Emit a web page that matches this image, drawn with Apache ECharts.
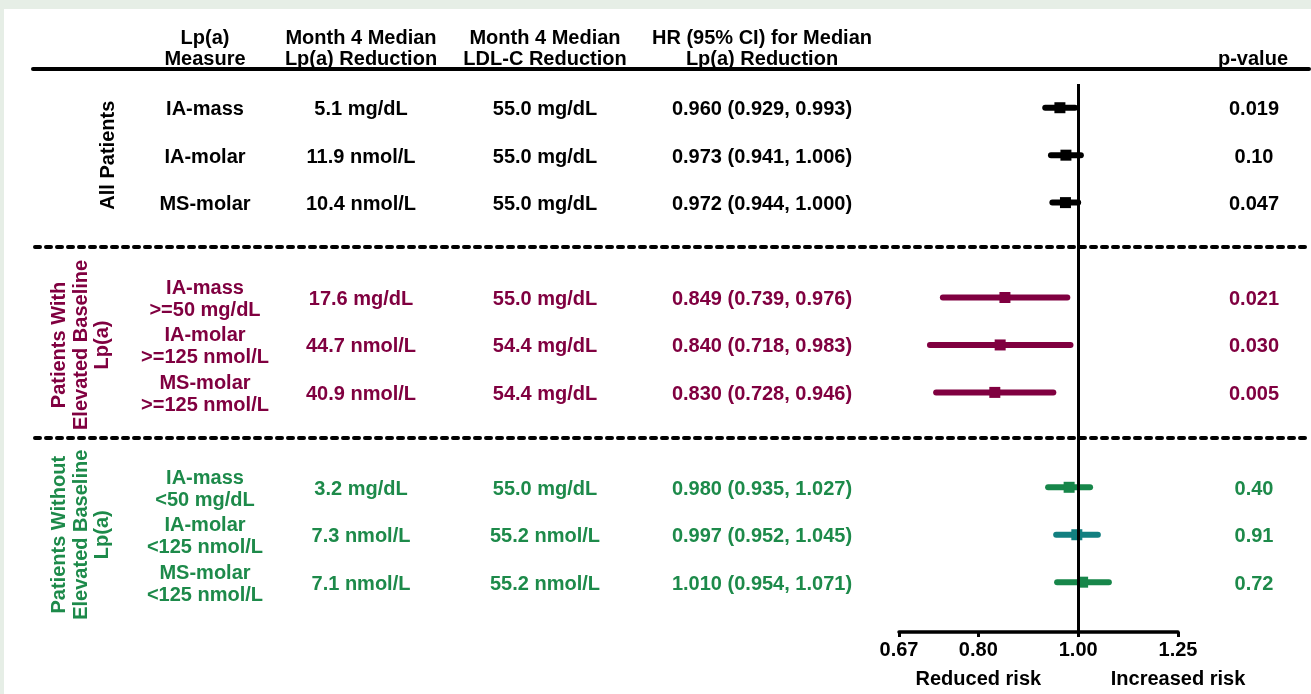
<!DOCTYPE html>
<html>
<head>
<meta charset="utf-8">
<script src="https://cdn.jsdelivr.net/npm/echarts@6/dist/echarts.min.js"></script>
<style>
  html, body { margin: 0; padding: 0; background: #e6eee6; }
  #frame { position: absolute; left: 4px; top: 9px; width: 1307px; height: 685px; background: #ffffff; }
  #chart { position: absolute; left: 0; top: 0; width: 1311px; height: 694px; }
</style>
</head>
<body>
<div id="frame"></div>
<div id="chart"></div>
<script>
// ---- data ----
const groups = [
  'All Patients',
  'Patients With\nElevated Baseline\nLp(a)',
  'Patients Without\nElevated Baseline\nLp(a)'
];
const measures = [
  'IA-mass', 'IA-molar', 'MS-molar',
  'IA-mass\n>=50 mg/dL', 'IA-molar\n>=125 nmol/L', 'MS-molar\n>=125 nmol/L',
  'IA-mass\n<50 mg/dL', 'IA-molar\n<125 nmol/L', 'MS-molar\n<125 nmol/L'
];
const lpaReduction = [
  '5.1 mg/dL', '11.9 nmol/L', '10.4 nmol/L',
  '17.6 mg/dL', '44.7 nmol/L', '40.9 nmol/L',
  '3.2 mg/dL', '7.3 nmol/L', '7.1 nmol/L'
];
const ldlReduction = [
  '55.0 mg/dL', '55.0 mg/dL', '55.0 mg/dL',
  '55.0 mg/dL', '54.4 mg/dL', '54.4 mg/dL',
  '55.0 mg/dL', '55.2 nmol/L', '55.2 nmol/L'
];
const hazardRatio = [0.960, 0.973, 0.972, 0.849, 0.840, 0.830, 0.980, 0.997, 1.010];
const ciLower     = [0.929, 0.941, 0.944, 0.739, 0.718, 0.728, 0.935, 0.952, 0.954];
const ciUpper     = [0.993, 1.006, 1.000, 0.976, 0.983, 0.946, 1.027, 1.045, 1.071];
const pValues = ['0.019', '0.10', '0.047', '0.021', '0.030', '0.005', '0.40', '0.91', '0.72'];
const rowGroup = [0, 0, 0, 1, 1, 1, 2, 2, 2];
const axisTicks = [0.67, 0.80, 1.00, 1.25];
const riskLabels = ['Reduced risk', 'Increased risk'];
const riskTicks = [0.80, 1.25];
const headers = [
  'Lp(a)\nMeasure',
  'Month 4 Median\nLp(a) Reduction',
  'Month 4 Median\nLDL-C Reduction',
  'HR (95% CI) for Median\nLp(a) Reduction'
];
const pHeader = 'p-value';

// ---- styles & layout ----
const groupColors = ['#000000', '#800040', '#1d8a4a'];
const markerColors = ['#000000', '#000000', '#000000',
                      '#800040', '#800040', '#800040',
                      '#17864a', '#127f80', '#17864a'];
const FONT = 'bold 20px "Liberation Sans", Arial, Helvetica, sans-serif';
const colMeasure = 205, colLpa = 361, colLdl = 545, colHr = 762, colP = 1254;
const groupX = [108, 81, 81];
const TEXT_DY = 2; // optical baseline correction for centred text
// each group takes 3 rows plus one empty slot
const slotOf = i => rowGroup[i] * 4 + (i % 3);
const yMin = -0.5, yMax = 11.05;

const ln = Math.log;
const fmt3 = v => v.toFixed(3);
const hrText = hazardRatio.map((h, i) => `${fmt3(h)} (${fmt3(ciLower[i])}, ${fmt3(ciUpper[i])})`);

// a column of centred text drawn on the table grid
function textColumn(x, texts, colorOf, extra) {
  extra = extra || {};
  return {
    type: 'custom',
    xAxisIndex: 0,
    yAxisIndex: 0,
    silent: true,
    data: texts.map((t, i) => [Array.isArray(x) ? x[i] : x, extra.slots ? extra.slots[i] : slotOf(i)]),
    renderItem: function (params, api) {
      const p = api.coord([api.value(0), api.value(1)]);
      return {
        type: 'text',
        x: p[0],
        y: p[1] + (extra.rotation ? 0 : TEXT_DY),
        rotation: extra.rotation || 0,
        style: {
          text: texts[params.dataIndex],
          fill: colorOf(params.dataIndex),
          font: FONT,
          align: 'center',
          verticalAlign: 'middle',
          lineHeight: extra.lineHeight || 22
        }
      };
    }
  };
}

const forestData = hazardRatio.map((h, i) => [ln(ciLower[i]), ln(h), ln(ciUpper[i]), slotOf(i)]);

const chart = echarts.init(document.getElementById('chart'), null, { renderer: 'canvas' });

const axisFont = { color: '#000', fontSize: 20, fontWeight: 'bold',
                   fontFamily: '"Liberation Sans", Arial, sans-serif' };

const option = {
  backgroundColor: 'transparent',
  animation: false,
  grid: [
    { left: 0, width: 1311, top: 84, height: 548, outerBoundsMode: 'none' },
    { left: 899, width: 279, top: 84, height: 548, outerBoundsMode: 'none' }
  ],
  xAxis: [
    { gridIndex: 0, type: 'value', min: 0, max: 1311, show: false },
    {
      gridIndex: 1, type: 'value', min: ln(axisTicks[0]), max: ln(axisTicks[axisTicks.length - 1]),
      position: 'bottom',
      axisLine: { show: true, onZero: false, lineStyle: { color: '#000', width: 3.5 } },
      axisTick: { show: true, length: 5, lineStyle: { color: '#000', width: 3 },
                  customValues: axisTicks.map(ln) },
      axisLabel: Object.assign({ show: true, margin: 8,
                   customValues: axisTicks.map(ln),
                   formatter: v => Math.exp(v).toFixed(2) }, axisFont),
      splitLine: { show: false }
    },
    {
      gridIndex: 1, type: 'value', min: ln(axisTicks[0]), max: ln(axisTicks[axisTicks.length - 1]),
      position: 'bottom', offset: 32,
      axisLine: { show: false }, axisTick: { show: false }, splitLine: { show: false },
      axisLabel: Object.assign({ show: true, margin: 5,
                   customValues: riskTicks.map(ln),
                   formatter: v => riskLabels[riskTicks.findIndex(t => Math.abs(ln(t) - v) < 1e-6)] }, axisFont)
    }
  ],
  yAxis: [
    { gridIndex: 0, type: 'value', min: yMin, max: yMax, inverse: true, show: false },
    { gridIndex: 1, type: 'value', min: yMin, max: yMax, inverse: true, show: false }
  ],
  graphic: [
    { type: 'line', silent: true, shape: { x1: 33, y1: 69, x2: 1309, y2: 69 },
      style: { stroke: '#000', lineWidth: 4, lineCap: 'round' } },
    { type: 'line', silent: true, shape: { x1: 35, y1: 247, x2: 1309, y2: 247 },
      style: { stroke: '#000', lineWidth: 4, lineCap: 'round', lineDash: [5, 6] } },
    { type: 'line', silent: true, shape: { x1: 35, y1: 438, x2: 1309, y2: 438 },
      style: { stroke: '#000', lineWidth: 4, lineCap: 'round', lineDash: [5, 6] } }
  ].concat(
    [colMeasure, colLpa, colLdl, colHr].map((x, i) => ({
      type: 'text', silent: true, x: x, y: 48.5,
      style: { text: headers[i], font: FONT, fill: '#000', align: 'center', verticalAlign: 'middle', lineHeight: 21 }
    })),
    [{ type: 'text', silent: true, x: 1253, y: 59,
       style: { text: pHeader, font: FONT, fill: '#000', align: 'center', verticalAlign: 'middle' } }]
  ),
  series: [
    textColumn(colMeasure, measures, i => groupColors[rowGroup[i]]),
    textColumn(colLpa, lpaReduction, i => groupColors[rowGroup[i]]),
    textColumn(colLdl, ldlReduction, i => groupColors[rowGroup[i]]),
    textColumn(colHr, hrText, i => groupColors[rowGroup[i]]),
    textColumn(colP, pValues, i => groupColors[rowGroup[i]]),
    textColumn(groupX, groups, i => groupColors[i],
               { rotation: Math.PI / 2, lineHeight: 21.5, slots: groups.map((g, i) => i * 4 + 1) }),
    {
      type: 'custom',
      xAxisIndex: 1,
      yAxisIndex: 1,
      silent: true,
      data: forestData,
      renderItem: function (params, api) {
        const k = api.value(3);
        const lo = api.coord([api.value(0), k]);
        const mid = api.coord([api.value(1), k]);
        const hi = api.coord([api.value(2), k]);
        const c = markerColors[params.dataIndex];
        return {
          type: 'group',
          children: [
            { type: 'line', shape: { x1: lo[0], y1: lo[1], x2: hi[0], y2: hi[1] },
              style: { stroke: c, lineWidth: 6, lineCap: 'round' } },
            { type: 'rect', shape: { x: mid[0] - 5.5, y: mid[1] - 5.5, width: 11, height: 11 },
              style: { fill: c } }
          ]
        };
      },
      markLine: {
        silent: true,
        symbol: 'none',
        label: { show: false },
        lineStyle: { color: '#000', width: 3, type: 'solid' },
        data: [{ xAxis: 0 }]
      },
      z: 3
    }
  ]
};

chart.setOption(option);
</script>
</body>
</html>
